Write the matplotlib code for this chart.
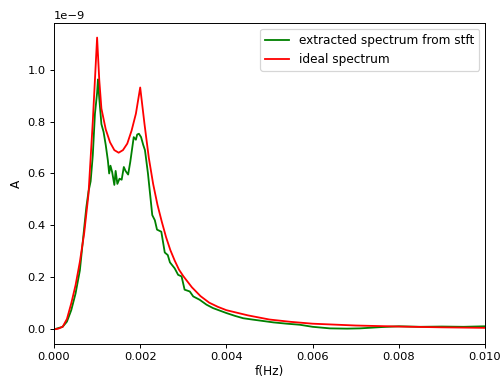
"""
plot.py - extracted vs ideal spectrum.

Draws the spectrum extracted from an STFT next to the ideal spectrum
and saves it as out.png.
"""

import matplotlib

matplotlib.use("Agg")
import matplotlib.pyplot as plt
import numpy as np

# values in units of 1e-9
IDEAL_FREQ = [
    0.0, 0.0001, 0.0002, 0.0003, 0.0004, 0.0005, 0.0006, 0.0007, 0.0008, 0.0009,
    0.0010, 0.00105, 0.0011, 0.0012, 0.0013, 0.0014, 0.0015, 0.0016, 0.0017, 0.0018,
    0.0019, 0.0020, 0.0021, 0.0022, 0.0023, 0.0024, 0.0025, 0.0026, 0.0027, 0.0028,
    0.0029, 0.0030, 0.0032, 0.0034, 0.0036, 0.0038, 0.0040, 0.0045, 0.0050, 0.0055,
    0.0060, 0.0070, 0.0080, 0.0090, 0.0100,
]
IDEAL_AMP = [
    0.0, 0.003, 0.01, 0.04, 0.10, 0.17, 0.26, 0.37, 0.52, 0.80,
    1.123, 0.96, 0.85, 0.77, 0.72, 0.69, 0.68, 0.69, 0.715, 0.765,
    0.83, 0.931, 0.79, 0.66, 0.56, 0.48, 0.415, 0.355, 0.305, 0.265,
    0.23, 0.205, 0.162, 0.128, 0.103, 0.087, 0.074, 0.054, 0.038, 0.029,
    0.022, 0.015, 0.011, 0.008, 0.006,
]

STFT_FREQ = [
    0.0, 0.0001, 0.0002, 0.0003, 0.0004, 0.0005, 0.0006, 0.0007, 0.00075, 0.0008,
    0.00085, 0.0009, 0.00095, 0.0010, 0.00102, 0.00105, 0.0011, 0.00115, 0.0012, 0.00125,
    0.00128, 0.00131, 0.00135, 0.0014, 0.00143, 0.00147, 0.00152, 0.00157, 0.00162, 0.00166,
    0.00172, 0.00177, 0.00185, 0.0019, 0.00193, 0.00197, 0.00202, 0.00207, 0.00211, 0.00213,
    0.00218, 0.00228, 0.00234, 0.00239, 0.00249, 0.00257, 0.00264, 0.00269, 0.0028, 0.00288,
    0.00296, 0.00303, 0.00315, 0.00323, 0.00338, 0.00354, 0.00369, 0.0040, 0.0042, 0.00439,
    0.0046, 0.00478, 0.00509, 0.0054, 0.0057, 0.0060, 0.0064, 0.0068, 0.0071, 0.0074,
    0.0076, 0.0080, 0.0085, 0.0090, 0.0095, 0.0100,
]
STFT_AMP = [
    0.0, 0.005, 0.01, 0.03, 0.074, 0.138, 0.227, 0.39, 0.47, 0.53,
    0.57, 0.67, 0.83, 0.91, 0.962, 0.89, 0.79, 0.76, 0.71, 0.65,
    0.60, 0.63, 0.605, 0.556, 0.61, 0.56, 0.58, 0.576, 0.625, 0.61,
    0.596, 0.645, 0.74, 0.73, 0.75, 0.753, 0.74, 0.71, 0.69, 0.665,
    0.60, 0.44, 0.42, 0.384, 0.376, 0.296, 0.286, 0.258, 0.235, 0.21,
    0.204, 0.153, 0.146, 0.127, 0.114, 0.095, 0.082, 0.063, 0.052, 0.043,
    0.038, 0.034, 0.027, 0.022, 0.018, 0.010, 0.004, 0.003, 0.004, 0.007,
    0.009, 0.012, 0.010, 0.011, 0.010, 0.012,
]

plt.rcParams["font.size"] = 10
plt.rcParams["xtick.labelsize"] = 9.5
plt.rcParams["ytick.labelsize"] = 9.5

fig = plt.figure(figsize=(504 / 87, 379 / 87), dpi=87)
ax = fig.add_axes([54 / 504, 35 / 379, 431 / 504, 321 / 379])

ax.plot(STFT_FREQ, np.array(STFT_AMP) * 1e-9, color="green",
        label="extracted spectrum from stft")
ax.plot(IDEAL_FREQ, np.array(IDEAL_AMP) * 1e-9, color="red",
        label="ideal spectrum")

ax.set_xlim(0, 0.01)
ax.set_xlabel("f(Hz)", labelpad=2)
ax.set_ylabel("A")
ax.legend(loc="upper right")

fig.savefig("out.png", dpi=87)
